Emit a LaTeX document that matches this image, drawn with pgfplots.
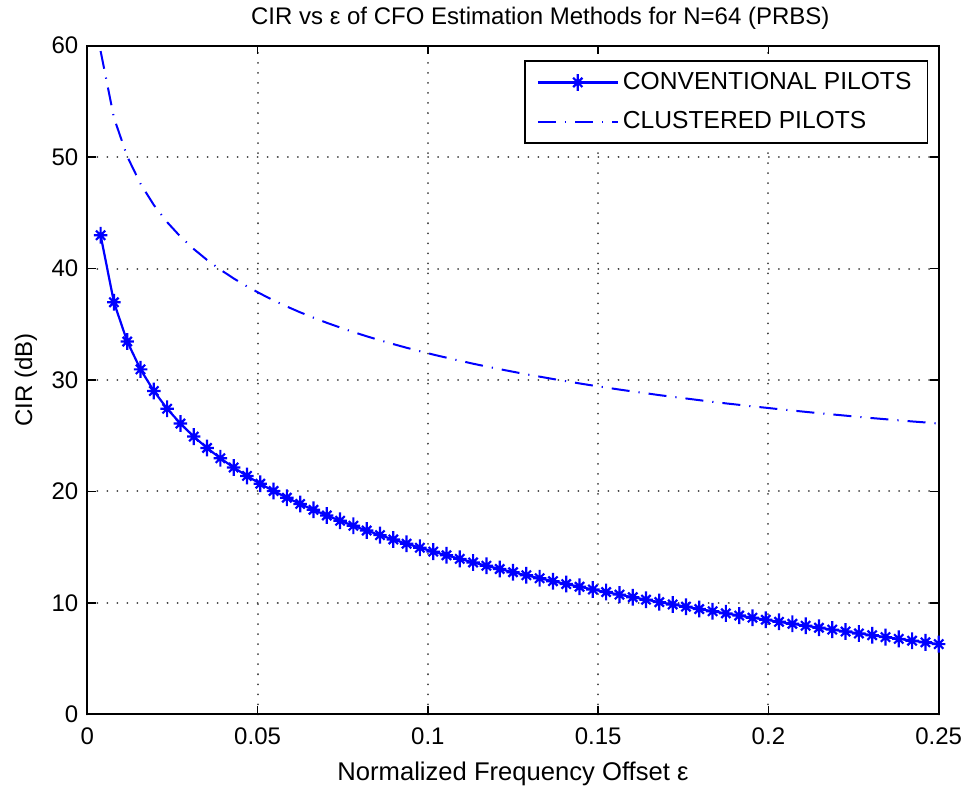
\documentclass[border=0pt]{standalone}
\usepackage{fontspec}
\setmainfont{Liberation Sans}
\usepackage{pgfplots}
\usepackage{pgfplotstable}
\pgfplotsset{compat=1.18}
\pgfdeclareplotmark{mstar}{%
 \pgfpathmoveto{\pgfqpoint{-0.8\pgfplotmarksize}{0pt}}\pgfpathlineto{\pgfqpoint{0.8\pgfplotmarksize}{0pt}}%
 \pgfpathmoveto{\pgfqpoint{0pt}{-\pgfplotmarksize}}\pgfpathlineto{\pgfqpoint{0pt}{\pgfplotmarksize}}%
 \pgfpathmoveto{\pgfqpoint{-0.55\pgfplotmarksize}{-0.55\pgfplotmarksize}}\pgfpathlineto{\pgfqpoint{0.55\pgfplotmarksize}{0.55\pgfplotmarksize}}%
 \pgfpathmoveto{\pgfqpoint{-0.55\pgfplotmarksize}{0.55\pgfplotmarksize}}\pgfpathlineto{\pgfqpoint{0.55\pgfplotmarksize}{-0.55\pgfplotmarksize}}%
 \pgfusepathqstroke}
\definecolor{mblue}{RGB}{0,0,255}
\pgfplotstableread{
x conv clus
0.003906 42.99 59.51
0.007813 36.97 53.53
0.011719 33.45 50.05
0.015625 30.95 47.60
0.019531 29.01 45.70
0.023438 27.42 44.16
0.027344 26.09 42.86
0.031250 24.92 41.75
0.035156 23.90 40.77
0.039063 22.98 39.90
0.042969 22.15 39.11
0.046875 21.39 38.40
0.050781 20.69 37.75
0.054688 20.04 37.14
0.058594 19.44 36.59
0.062500 18.88 36.07
0.066406 18.35 35.59
0.070313 17.84 35.13
0.074219 17.37 34.71
0.078125 16.92 34.30
0.082031 16.49 33.92
0.085938 16.08 33.56
0.089844 15.69 33.22
0.093750 15.31 32.89
0.097656 14.95 32.58
0.101563 14.60 32.28
0.105469 14.27 32.00
0.109375 13.95 31.73
0.113281 13.63 31.46
0.117188 13.33 31.21
0.121094 13.04 30.97
0.125000 12.75 30.74
0.128906 12.48 30.51
0.132813 12.21 30.30
0.136719 11.95 30.09
0.140625 11.69 29.89
0.144531 11.45 29.69
0.148438 11.20 29.50
0.152344 10.97 29.32
0.156250 10.74 29.14
0.160156 10.51 28.97
0.164063 10.29 28.81
0.167969 10.07 28.64
0.171875 9.86 28.49
0.175781 9.66 28.34
0.179688 9.45 28.19
0.183594 9.25 28.04
0.187500 9.06 27.90
0.191406 8.86 27.77
0.195313 8.67 27.63
0.199219 8.49 27.51
0.203125 8.30 27.38
0.207031 8.12 27.26
0.210938 7.95 27.14
0.214844 7.77 27.02
0.218750 7.60 26.91
0.222656 7.43 26.80
0.226563 7.26 26.69
0.230469 7.10 26.58
0.234375 6.93 26.48
0.238281 6.77 26.38
0.242188 6.61 26.28
0.246094 6.46 26.19
0.250000 6.30 26.09
}\datatable
\begin{document}
\begin{tikzpicture}
\begin{axis}[
  at={(0,0)}, anchor=south west,
  scale only axis, width=425.6pt, height=334.3pt,
  xmin=0, xmax=0.25, ymin=0, ymax=60,
  xtick={0,0.05,...,0.25}, ytick={0,10,...,60},
  xticklabels={0,0.05,0.1,0.15,0.2,0.25},
  tick align=inside, major tick length=4.3pt,
  tick style={black, line width=0.8pt},
  axis line style={black, line width=1pt},
  grid=major,
  major grid style={black!75, line width=1pt, dash pattern=on 0.01pt off 5pt, line cap=round},
  font=\fontsize{12}{14}\selectfont,
  /pgf/number format/assume math mode=true,
  xticklabel style={anchor=base, yshift=-15pt},
  yticklabel style={anchor=east, xshift=-1pt},
  title={CIR vs ε of CFO Estimation Methods for N=64 (PRBS)},
  title style={at={(axis description cs:0.532,1)}, anchor=base, yshift=4.5pt},
  xlabel={Normalized Frequency Offset ε},
  xlabel style={at={(axis description cs:0.5,0)}, anchor=base, yshift=-32.9pt, font=\fontsize{12.8}{14}\selectfont},
  ylabel={CIR (dB)},
  ylabel style={at={(axis description cs:-0.0648,0.5)}, anchor=base},
  legend style={at={(axis description cs:0.9877,0.9786)}, anchor=north east,
    draw=black, line width=0.8pt, font=\fontsize{12.3}{14}\selectfont,
    inner xsep=6pt, inner ysep=3.8pt, row sep=5.5pt},
  legend cell align=left,
  legend image code/.code={\draw[#1, mark repeat=2, mark phase=2] plot coordinates {(0pt,0pt) (20pt,0pt) (40pt,0pt)};},
]
\addplot[mblue, line width=1.1pt, mark=mstar, mark size=4.2pt, mark options={solid, line width=1.1pt}] table[x=x, y=conv] {\datatable};
\addlegendentry{CONVENTIONAL PILOTS}
\addplot[mblue, line width=1pt, dash pattern=on 9pt off 4.5pt on 0.6pt off 4.5pt] table[x=x, y=clus] {\datatable};
\addlegendentry{CLUSTERED PILOTS}
\end{axis}
\pgfresetboundingbox
\path (-43.65pt,-38.4pt) rectangle (439.75pt,357.1pt);
\end{tikzpicture}
\end{document}
